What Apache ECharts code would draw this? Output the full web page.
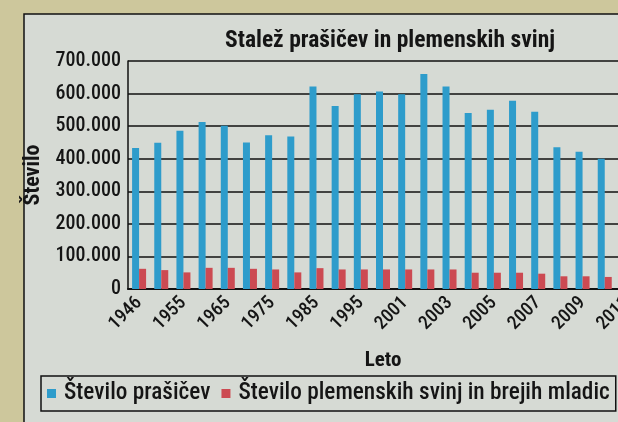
<!DOCTYPE html>
<html>
<head>
<meta charset="utf-8">
<script src="https://cdn.jsdelivr.net/npm/echarts@6/dist/echarts.min.js"></script>
<style>
html,body{margin:0;padding:0;overflow:hidden;width:618px;height:422px;background:#cdc79c;}
#c{width:660px;height:422px;}
</style>
</head>
<body>
<div id="c"></div>
<script>
var years = ['1946','1950','1955','1960','1965','1970','1975','1980','1985','1990','1995','2000','2001','2002','2003','2004','2005','2006','2007','2008','2009','2010','2011'];
var prasici = [433000,449000,486000,513000,501000,450000,472000,468000,622000,562000,598000,606000,598000,660000,622000,540000,550000,578000,544000,435000,421000,400000,395000];
var svinje = [62000,58000,51000,65000,65000,62000,60000,51000,64000,60000,60000,60000,60000,60000,60000,50000,50000,50000,47000,39000,39000,37000,35000];
var seriesNames = ['Število prašičev','Število plemenskih svinj in brejih mladic'];
var titleText = 'Stalež prašičev in plemenskih svinj';

var F = '"Roboto Condensed","Open Sans Condensed","Liberation Sans",sans-serif';
var chart = echarts.init(document.getElementById('c'), null, {renderer:'canvas'});
chart.setOption({
  backgroundColor: '#cdc79c',
  animation: false,
  graphic: [{
    type: 'rect', z: -10, silent: true,
    shape: {x: 24, y: 14, width: 700, height: 500},
    style: {fill: '#d6dad4', stroke: '#111', lineWidth: 1.5}
  }],
  title: {
    text: titleText, left: 220, top: 24,
    textStyle: {fontFamily: F, fontWeight: 'bold', fontSize: 23.5, color: '#151515'}
  },
  legend: {
    left: 41, top: 376,
    padding: [6, 6, 6, 6],
    borderColor: '#111', borderWidth: 1.5,
    itemWidth: 9, itemHeight: 9, itemGap: 11,
    icon: 'rect',
    textStyle: {fontFamily: F, fontSize: 23.3, fontWeight: 500, color: '#151515', padding: [0,0,0,3]},
    data: seriesNames
  },
  grid: {left: 128, right: 22, top: 61, bottom: 133},
  xAxis: {
    type: 'category', data: years,
    name: 'Leto', nameLocation: 'middle', nameGap: 61,
    nameTextStyle: {fontFamily: F, fontWeight: 'bold', fontSize: 21, color: '#151515'},
    axisLine: {lineStyle: {color: '#111', width: 2}},
    axisTick: {show: false},
    axisLabel: {interval: 1, rotate: 45, fontFamily: F, fontWeight: 500, fontSize: 19, color: '#151515', margin: 11}
  },
  yAxis: {
    type: 'value', min: 0, max: 700000, interval: 100000,
    name: 'Število', nameLocation: 'middle', nameGap: 68, nameRotate: 90,
    nameTextStyle: {fontFamily: F, fontWeight: 'bold', fontSize: 22, color: '#151515'},
    axisLine: {show: true, lineStyle: {color: '#111', width: 1.5}},
    axisTick: {show: false},
    splitLine: {lineStyle: {color: '#111', width: 1.5}},
    axisLabel: {
      fontFamily: F, fontWeight: 500, fontSize: 20, color: '#151515', margin: 7,
      formatter: function(v){ return v === 0 ? '0' : (v/1000) + '.000'; }
    }
  },
  series: [
    {name: seriesNames[0], type: 'bar', data: prasici, barWidth: 7, barGap: '0%', itemStyle: {color: '#2e9ccb'}},
    {name: seriesNames[1], type: 'bar', data: svinje, barWidth: 7, barGap: '0%', itemStyle: {color: '#cc4a52'}}
  ]
});
</script>
</body>
</html>
